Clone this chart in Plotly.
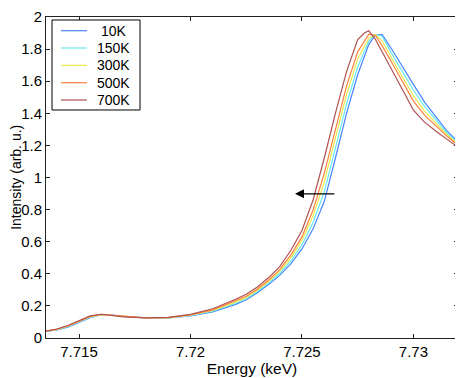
import plotly.graph_objects as go

# energy grid (keV) and intensities
energy = [7.7135, 7.714, 7.7145, 7.715, 7.7155, 7.716, 7.7165, 7.717, 7.718, 7.719,
          7.720, 7.721, 7.722, 7.7225, 7.723, 7.7235, 7.724, 7.7245, 7.725, 7.7255,
          7.726, 7.7265, 7.727, 7.7275, 7.7278, 7.728, 7.7283, 7.7286, 7.729, 7.7295,
          7.730, 7.7305, 7.731, 7.7315, 7.732]

i_10k = [0.040, 0.050, 0.068, 0.095, 0.127, 0.145, 0.143, 0.135, 0.126, 0.125,
         0.137, 0.163, 0.208, 0.238, 0.282, 0.333, 0.390, 0.462, 0.555, 0.680,
         0.850, 1.120, 1.400, 1.640, 1.760, 1.830, 1.888, 1.890, 1.805, 1.690,
         1.580, 1.470, 1.380, 1.290, 1.222]

i_150k = [0.041, 0.051, 0.070, 0.098, 0.129, 0.146, 0.142, 0.134, 0.126, 0.126,
          0.139, 0.167, 0.215, 0.245, 0.290, 0.342, 0.402, 0.480, 0.580, 0.720,
          0.909, 1.182, 1.457, 1.688, 1.791, 1.850, 1.890, 1.880, 1.778, 1.659,
          1.545, 1.443, 1.360, 1.279, 1.215]

i_300k = [0.041, 0.053, 0.073, 0.101, 0.132, 0.146, 0.142, 0.134, 0.126, 0.126,
          0.142, 0.172, 0.222, 0.253, 0.298, 0.352, 0.415, 0.499, 0.607, 0.761,
          0.972, 1.246, 1.517, 1.739, 1.823, 1.870, 1.890, 1.850, 1.749, 1.627,
          1.508, 1.414, 1.340, 1.268, 1.207]

i_500k = [0.042, 0.054, 0.075, 0.103, 0.134, 0.147, 0.141, 0.133, 0.125, 0.127,
          0.144, 0.175, 0.229, 0.260, 0.305, 0.360, 0.426, 0.516, 0.630, 0.797,
          1.026, 1.302, 1.569, 1.783, 1.851, 1.893, 1.885, 1.820, 1.724, 1.599,
          1.476, 1.389, 1.322, 1.258, 1.200]

i_700k = [0.043, 0.056, 0.078, 0.108, 0.138, 0.148, 0.140, 0.132, 0.125, 0.128,
          0.147, 0.182, 0.240, 0.272, 0.318, 0.375, 0.445, 0.545, 0.670, 0.860,
          1.120, 1.400, 1.660, 1.860, 1.900, 1.914, 1.860, 1.780, 1.680, 1.550,
          1.420, 1.345, 1.290, 1.240, 1.188]

labels = ["10K", "150K", "300K", "500K", "700K"]
series = [i_10k, i_150k, i_300k, i_500k, i_700k]
colors = ["#4a82ff", "#66e8f0", "#e8e850", "#ff8040", "#b05252"]

fig = go.Figure()
for name, vals, col in zip(labels, series, colors):
    fig.add_trace(go.Scatter(
        x=energy, y=vals,
        mode="lines",
        name=name,
        showlegend=False,
        line=dict(color=col, width=1.2)
    ))

# legend box drawn by hand (matlab style, tight row spacing)
fig.add_shape(type="rect", xref="paper", yref="paper",
              x0=0.0146, x1=0.2282, y0=0.7103, y1=0.9907,
              line=dict(color="black", width=1), fillcolor="white", layer="above")
row_y = [0.9573, 0.9034, 0.8495, 0.7953, 0.7414]
for name, col, ry in zip(labels, colors, row_y):
    fig.add_shape(type="line", xref="paper", yref="paper",
                  x0=0.0364, x1=0.0995, y0=ry, y1=ry,
                  line=dict(color=col, width=1.2), layer="above")
    fig.add_annotation(xref="paper", yref="paper", x=0.164, y=ry,
                       text=name, showarrow=False, xanchor="center", yanchor="middle",
                       font=dict(size=14, color="black"))

# y axis title as a rotated annotation (standoff is ignored without automargin)
fig.add_annotation(xref="paper", yref="paper", x=-0.0745, y=0.5,
                   text="Intensity (arb. u.)", textangle=-90, showarrow=False,
                   xanchor="center", yanchor="middle",
                   font=dict(size=14, color="black"))

# arrow pointing to lower energy
fig.add_annotation(
    x=7.72469, y=0.898, ax=7.72652, ay=0.898,
    xref="x", yref="y", axref="x", ayref="y",
    text="", showarrow=True,
    arrowhead=2, arrowsize=1.5, arrowwidth=1.2, arrowcolor="black"
)

axis_style = dict(
    showline=True, linecolor="#222", linewidth=1, mirror="ticks",
    ticks="inside", ticklen=4, tickcolor="#222",
    showgrid=False, zeroline=False, ticklabeloverflow="allow",
    automargin=False,
    tickfont=dict(size=15, color="black"),
)

# page body has an 8px margin, so the figure is sized to fit the window
fig.update_layout(
    width=455, height=370,
    plot_bgcolor="white",
    paper_bgcolor="white",
    font=dict(family="Liberation Sans, Arial, sans-serif", size=15, color="black"),
    margin=dict(l=38, r=5, t=9, b=40),
    showlegend=False,
)
fig.update_xaxes(
    range=[7.71352, 7.732], tickvals=[7.715, 7.72, 7.725, 7.73],
    title=dict(text="Energy (keV)", font=dict(size=15.5), standoff=2),
    **axis_style
)
fig.update_yaxes(
    range=[0, 2], dtick=0.2,
    **axis_style
)

fig.write_html("out.html")
